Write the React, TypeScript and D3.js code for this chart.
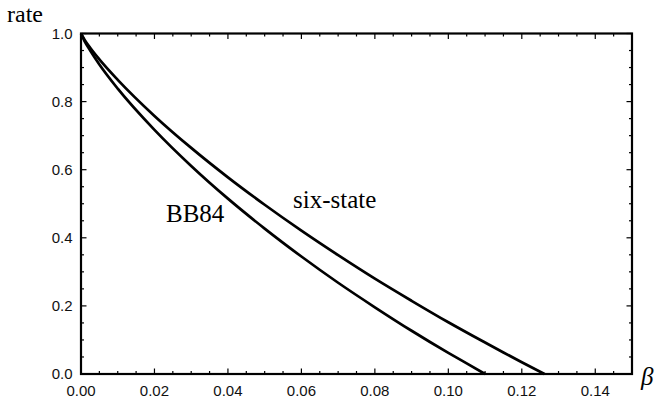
import React from "react";
import * as d3 from "d3";

const betaBB84 = [0, 0.001, 0.0025, 0.005, 0.01, 0.02, 0.03, 0.04, 0.05, 0.06, 0.07, 0.08, 0.09, 0.1, 0.105, 0.11];
const rateBB84 = [1, 0.977, 0.95, 0.909, 0.838, 0.717, 0.611, 0.515, 0.427, 0.345, 0.268, 0.196, 0.127, 0.062, 0.031, 0.0];
const betaSix = [0, 0.001, 0.0025, 0.005, 0.01, 0.02, 0.03, 0.04, 0.05, 0.06, 0.07, 0.08, 0.09, 0.1, 0.11, 0.115, 0.12, 0.1262];
const rateSix = [1, 0.981, 0.958, 0.924, 0.864, 0.758, 0.664, 0.5775, 0.497, 0.421, 0.349, 0.28, 0.215, 0.152, 0.0924, 0.0632, 0.0346, 0.0];
const xTicks = [0, 0.02, 0.04, 0.06, 0.08, 0.1, 0.12, 0.14];
const yTicks = [0, 0.2, 0.4, 0.6, 0.8, 1.0];
const xLabels = ["0.00", "0.02", "0.04", "0.06", "0.08", "0.10", "0.12", "0.14"];
const yLabels = ["0.0", "0.2", "0.4", "0.6", "0.8", "1.0"];

const W = 657, H = 402;
const L = 81, R = 632, T = 33.5, B = 374;

export default function App() {
  const x = d3.scaleLinear().domain([0, 0.15]).range([L, R]);
  const y = d3.scaleLinear().domain([0, 1]).range([B, T]);
  const line = d3.line<[number, number]>().x(d => x(d[0])).y(d => y(d[1])).curve(d3.curveMonotoneX);
  const bb = line(betaBB84.map((b, i) => [b, rateBB84[i]]) as [number, number][]) || "";
  const six = line(betaSix.map((b, i) => [b, rateSix[i]]) as [number, number][]) || "";
  const xMinor = d3.range(0, 0.1501, 0.005);
  const yMinor = d3.range(0, 1.0001, 0.05);
  const isMajorX = (v: number) => Math.abs(v / 0.02 - Math.round(v / 0.02)) < 1e-6;
  const isMajorY = (v: number) => Math.abs(v / 0.2 - Math.round(v / 0.2)) < 1e-6;
  const serif = "'Liberation Serif', 'DejaVu Serif', serif";
  const sans = "'Liberation Sans', Arial, sans-serif";
  return (
    <svg width={W} height={H} style={{ position: "absolute", left: 0, top: 0, background: "#fff" }}>
      <rect width={W} height={H} fill="#fff" />
      <g stroke="#000" strokeWidth={1.2}>
        {xMinor.map((v, i) => {
          const len = isMajorX(v) ? 5.5 : 3;
          return (
            <g key={"xt" + i}>
              <line x1={x(v)} x2={x(v)} y1={B} y2={B - len} />
              <line x1={x(v)} x2={x(v)} y1={T} y2={T + len} />
            </g>
          );
        })}
        {yMinor.map((v, i) => {
          const len = isMajorY(v) ? 5.5 : 3;
          return (
            <g key={"yt" + i}>
              <line x1={L} x2={L + len} y1={y(v)} y2={y(v)} />
              <line x1={R} x2={R - len} y1={y(v)} y2={y(v)} />
            </g>
          );
        })}
      </g>
      <path d={bb} fill="none" stroke="#000" strokeWidth={2.7} />
      <path d={six} fill="none" stroke="#000" strokeWidth={2.7} />
      <rect x={L} y={T} width={R - L} height={B - T} fill="none" stroke="#000" strokeWidth={2.2} />
      <g fontFamily={sans} fontSize={15} fill="#111">
        {xTicks.map((v, i) => (
          <text key={"xl" + i} x={x(v)} y={395.5} textAnchor="middle">{xLabels[i]}</text>
        ))}
        {yTicks.map((v, i) => (
          <text key={"yl" + i} x={72.5} y={y(v) + 5.4} textAnchor="end">{yLabels[i]}</text>
        ))}
      </g>
      <g fontFamily={serif} fontSize={25} fill="#000">
        <text x={7} y={21.5} fontSize={24}>rate</text>
        <text x={641} y={385} fontStyle="italic">β</text>
        <text x={166} y={222}>BB84</text>
        <text x={293} y={208}>six-state</text>
      </g>
    </svg>
  );
}
